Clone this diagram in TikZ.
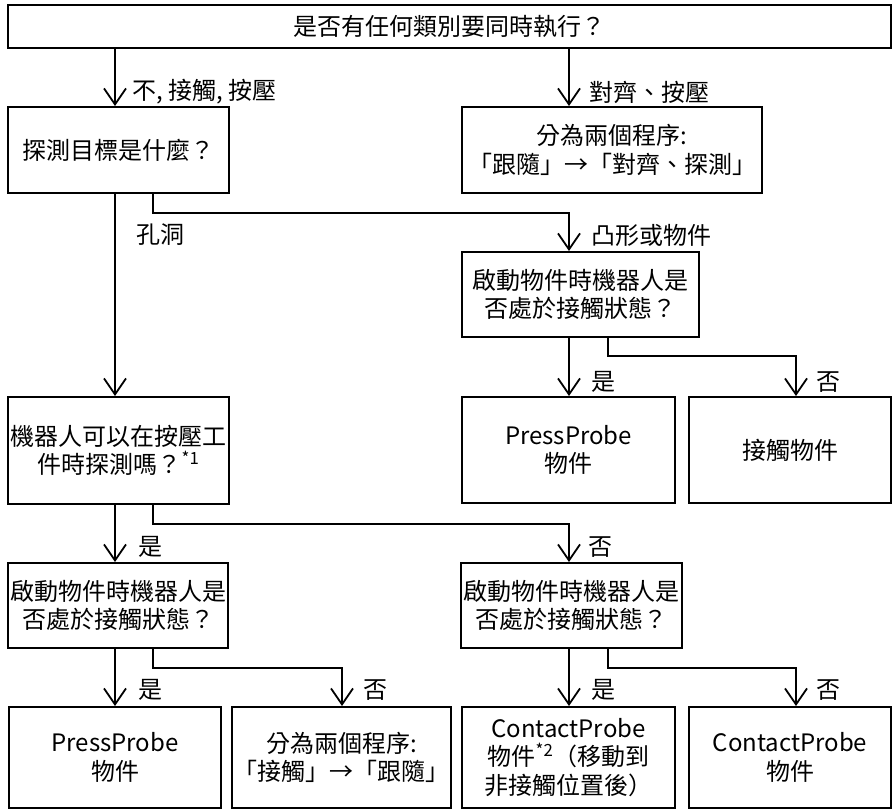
\documentclass[tikz,border=0pt]{standalone}
\usepackage{fontspec}
\setmainfont{Noto Sans CJK TC}
\usetikzlibrary{arrows.meta}

\begin{document}
\begin{tikzpicture}[
  x=1pt, y=-1pt,
  flowbox/.style={
    rectangle, draw=black, line width=2pt,
    inner sep=1.5pt, align=center,
    font=\fontsize{24}{28.5}\selectfont
  },
  conn/.style={-{Straight Barb[length=16pt,width=22pt]}, line width=1.8pt},
  lbl/.style={anchor=west, inner sep=0pt, font=\fontsize{24}{28.5}\selectfont}
]
\useasboundingbox (0,0) rectangle (893,810);

% columns for the connectors
\coordinate (colA)  at (115,0);
\coordinate (colA2) at (153,0);
\coordinate (colB)  at (569,0);
\coordinate (colB2) at (608,0);
\coordinate (colC)  at (342,0);
\coordinate (colD)  at (796,0);

% boxes
\node[flowbox, minimum width=883pt, minimum height=43pt]  (top)    at (449.5,26.5) {是否有任何類別要同時執行？};
\node[flowbox, minimum width=221pt, minimum height=86pt]  (q1)     at (118.5,150)  {探測目標是什麼？};
\node[flowbox, minimum width=300pt, minimum height=86pt]  (split1) at (612,150)    {分為兩個程序:\\「跟隨」→「對齊、探測」};
\node[flowbox, minimum width=237pt, minimum height=85pt]  (q3)     at (580.5,294.5) {啟動物件時機器人是\\否處於接觸狀態？};
\node[flowbox, minimum width=213pt, minimum height=106pt] (r1)     at (568.5,450)  {PressProbe\\物件};
\node[flowbox, minimum width=202pt, minimum height=106pt] (r2)     at (790,450)    {接觸物件};
\node[flowbox, minimum width=221pt, minimum height=107pt] (q2)     at (118.5,450.5) {機器人可以在按壓工\\件時探測嗎？\textsuperscript{*1}};
\node[flowbox, minimum width=220pt, minimum height=85pt]  (q4)     at (118,605.5)  {啟動物件時機器人是\\否處於接觸狀態？};
\node[flowbox, minimum width=221pt, minimum height=85pt]  (q5)     at (571.5,605.5) {啟動物件時機器人是\\否處於接觸狀態？};
\node[flowbox, minimum width=212pt, minimum height=101pt] (b1)     at (115,757.5)  {PressProbe\\物件};
\node[flowbox, minimum width=211pt, minimum height=101pt] (b2)     at (341.5,757.5) {分為兩個程序:\\「接觸」→「跟隨」};
\node[flowbox, minimum width=213pt, minimum height=101pt] (b3)     at (568.5,757.5) {ContactProbe\\物件\textsuperscript{*2}（移動到\\非接觸位置後）};
\node[flowbox, minimum width=202pt, minimum height=101pt] (b4)     at (790,757.5)  {ContactProbe\\物件};

% connectors
\draw[conn] (top.south -| colA) -- (q1.north -| colA);
\draw[conn] (top.south -| colB) -- (split1.north -| colB);
\draw[conn] (q1.south -| colA) -- (q2.north -| colA);
\draw[conn] (q1.south -| colA2) -- ++(0,19) -| (q3.north -| colB);
\draw[conn] (q3.south -| colB) -- (r1.north -| colB);
\draw[conn] (q3.south -| colB2) -- ++(0,18) -| (r2.north -| colD);
\draw[conn] (q2.south -| colA) -- (q4.north -| colA);
\draw[conn] (q2.south -| colA2) -- ++(0,19) -| (q5.north -| colB);
\draw[conn] (q4.south -| colA) -- (b1.north -| colA);
\draw[conn] (q4.south -| colA2) -- ++(0,19) -| (b2.north -| colC);
\draw[conn] (q5.south -| colB) -- (b3.north -| colB);
\draw[conn] (q5.south -| colB2) -- ++(0,19) -| (b4.north -| colD);

% labels
\node[lbl] (l1)  at (132,92)  {不, 接觸, 按壓};
\node[lbl] (l2)  at (589,92)  {對齊、按壓};
\node[lbl] (l3)  at (136,235) {孔洞};
\node[lbl] (l4)  at (591,235) {凸形或物件};
\node[lbl] (l5)  at (591,382) {是};
\node[lbl] (l6)  at (816,382) {否};
\node[lbl] (l7)  at (138,547) {是};
\node[lbl] (l8)  at (588,547) {否};
\node[lbl] (l9)  at (138,690) {是};
\node[lbl] (l10) at (363,690) {否};
\node[lbl] (l11) at (591,690) {是};
\node[lbl] (l12) at (816,690) {否};
\end{tikzpicture}
\end{document}
